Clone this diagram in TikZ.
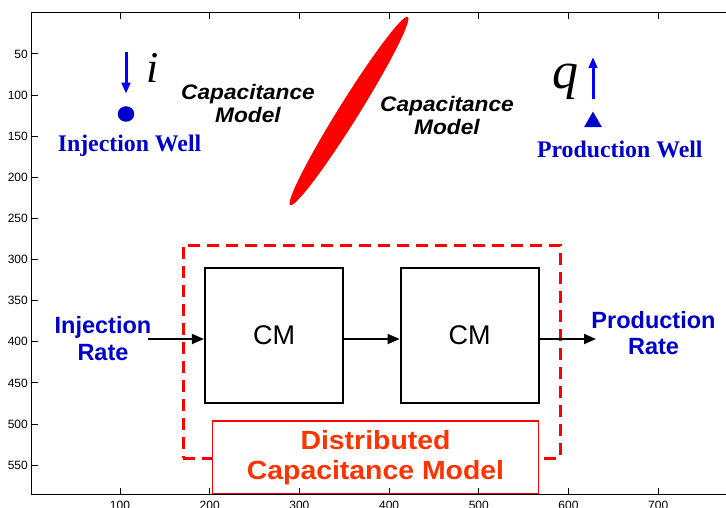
\documentclass[tikz,border=0pt]{standalone}
\usepackage{fontspec}
\setmainfont{Liberation Serif}
\newfontfamily\axfont{Liberation Sans}
\newfontfamily\widefont[FakeStretch=1.08]{Liberation Sans}
\usetikzlibrary{arrows.meta, shapes.geometric, positioning}
\definecolor{WellBlue}{HTML}{0000CC}
\definecolor{ArrowBlue}{HTML}{0000FF}
\definecolor{DCMOrange}{HTML}{FF3300}

\begin{document}
\begin{tikzpicture}[x=1pt, y=-1pt, on grid, inner sep=0pt,
    cmbox/.style={rectangle, draw, line width=2.2pt, minimum width=138pt, minimum height=134.4pt, font=\axfont\fontsize{27}{27}\selectfont},
    dcmbox/.style={rectangle, draw=red, fill=white, line width=1.3pt, minimum width=326pt, minimum height=72.5pt, align=center, text=DCMOrange, font=\widefont\bfseries\fontsize{26.3}{30}\selectfont},
    frame/.style={rectangle, draw=red, line width=3pt, dash pattern=on 12pt off 7pt, minimum width=377pt, minimum height=213pt},
    flow/.style={-{Triangle[length=12pt, width=10pt]}, line width=2pt},
    wellarrow/.style={-{Triangle[length=11pt, width=8.5pt]}, line width=3pt, ArrowBlue},
    welllabel/.style={font=\bfseries\fontsize{23.8}{24}\selectfont, text=WellBlue},
    ratelabel/.style={align=center, font=\axfont\bfseries\fontsize{23.5}{26.7}\selectfont, text=WellBlue},
    capmodel/.style={align=center, font=\widefont\bfseries\itshape\fontsize{21}{22.5}\selectfont},
    ticklabel/.style={font=\axfont\fontsize{12}{12}\selectfont}]

    \useasboundingbox (0,0) rectangle (726,508);
    \clip (0,0) rectangle (726,508);
    \fill[white] (0,0) rectangle (726,508);
    \draw[line width=1pt] (726,13) -- (31,13) -- (31,494) -- (726,494);

    \node[ellipse, fill=red, minimum width=222pt, minimum height=20pt, rotate=58] (sep) at (349,111) {};
    \node[capmodel] (capl) at (248,103.3) {Capacitance\\Model};
    \node[capmodel] (capr) at (447,115.5) {Capacitance\\Model};

    \node[ellipse, fill=WellBlue, minimum width=16.5pt, minimum height=15.5pt] (injdot) at (126,114) {};
    \node[welllabel, below=32pt of injdot, xshift=3.5pt] (injwell) {Injection Well};
    \node[anchor=base, font=\itshape\fontsize{44}{44}\selectfont] (isym) at (153,83) {i};
    \coordinate (itop) at (126,52);
    \draw[wellarrow, shorten >=12.3pt] (itop) -- (injdot.north);

    \node[regular polygon, regular polygon sides=3, fill=WellBlue, minimum size=20.8pt] (prodtri) at (593,122) {};
    \node[welllabel] (prodwell) at (619.8,149.6) {Production Well};
    \node[anchor=base, font=\itshape\fontsize{52}{52}\selectfont] (qsym) at (565,89) {q};
    \coordinate (qtop) at (593,57);
    \draw[wellarrow, shorten <=12pt] (prodtri.north) -- (qtop);

    \node[frame] (dcmframe) at (371.5,351.5) {};
    \node[cmbox] (cm1) at (274,335.5) {CM};
    \node[cmbox, right=195.7pt of cm1] (cm2) {CM};
    \node[ratelabel] (inrate) at (103,338.3) {Injection\\Rate};
    \node[ratelabel] (outrate) at (653.5,333) {Production\\Rate};
    \coordinate (injin) at (148,339);
    \coordinate (prodout) at (596,339);
    \draw[flow] (injin) -- (injin -| cm1.west);
    \draw[flow] ([yshift=-3.5pt]cm1.east) -- ([yshift=-3.5pt]cm2.west);
    \draw[flow] (prodout -| cm2.east) -- (prodout);

    \node[dcmbox] (dcm) at (375.5,457.3) {Distributed\\Capacitance Model};

    \foreach \v in {100,200,...,700} {
        \pgfmathsetmacro\tx{30.3+\v*0.897}
        \draw[line width=1pt] (\tx,494) -- ++(0,-6.5);
        \draw[line width=1pt] (\tx,13) -- ++(0,6.5);
        \node[ticklabel, anchor=north] at (\tx,501) {\v};
    }
    \foreach \v in {50,100,...,550} {
        \pgfmathsetmacro\ty{12.8+\v*0.8225}
        \draw[line width=1pt] (31,\ty) -- ++(6.5,0);
        \node[ticklabel, anchor=east] at (28,\ty) {\v};
    }

\end{tikzpicture}
\end{document}
